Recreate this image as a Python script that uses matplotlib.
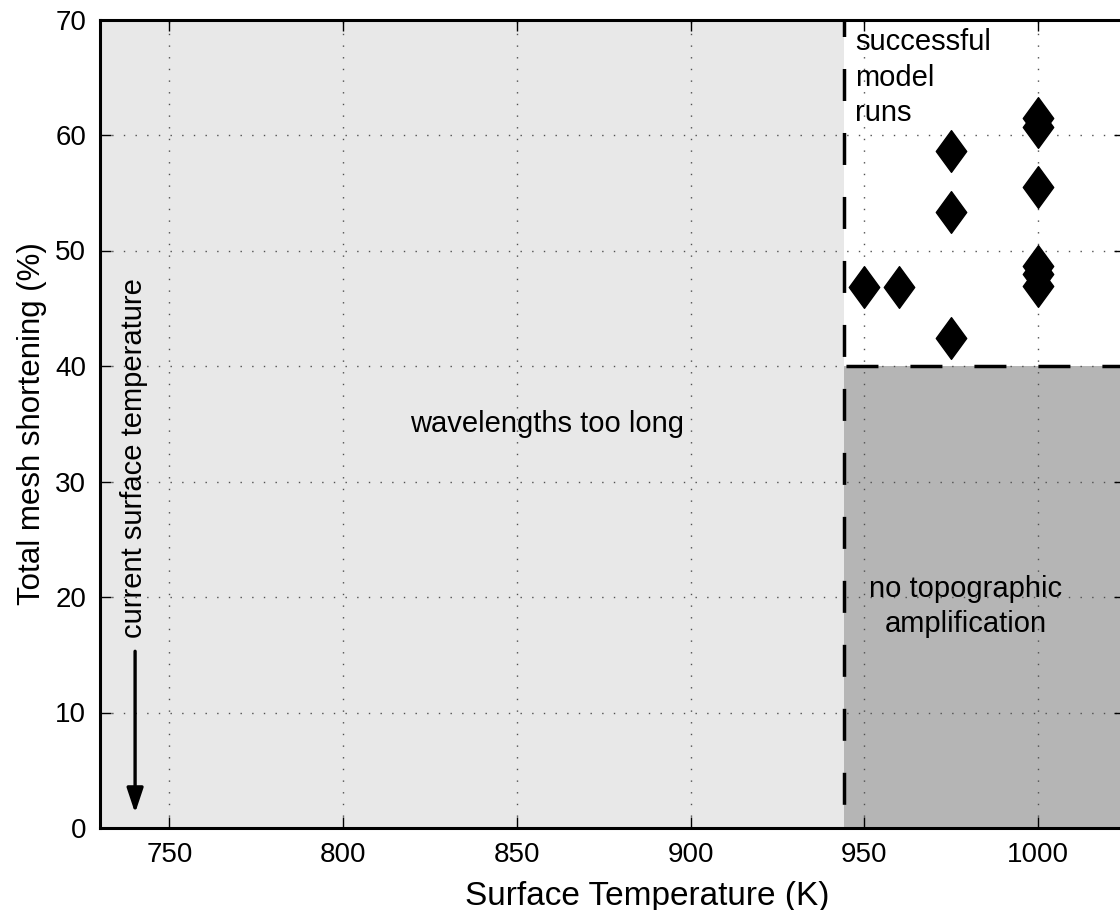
import matplotlib
matplotlib.use("Agg")
import matplotlib.pyplot as plt
from matplotlib.path import Path

plt.rcParams['font.family'] = ['Liberation Sans', 'DejaVu Sans']

# Data
temperature = [950, 960, 975, 975, 975, 1000, 1000, 1000, 1000, 1000, 1000]
shortening = [46.85, 46.85, 42.4, 53.3, 58.65, 61.5, 60.7, 55.5, 48.7, 48.0, 46.9]

xticks = [750, 800, 850, 900, 950, 1000]
yticks = [0, 10, 20, 30, 40, 50, 60, 70]
x_limits = (730, 1025)
y_limits = (0, 70)
temp_threshold = 944
shortening_threshold = 40

W, H = 1120, 910
fig = plt.figure(figsize=(W / 100, H / 100), dpi=100)
ax_left, ax_right, ax_top, ax_bottom = 100, 1125, 19.5, 828
ax = fig.add_axes([ax_left / W, (H - ax_bottom) / H,
                   (ax_right - ax_left) / W, (ax_bottom - ax_top) / H])

ax.set_xlim(*x_limits)
ax.set_ylim(*y_limits)

# Regions
ax.axvspan(x_limits[0], temp_threshold, color='#e8e8e8', zorder=0, lw=0)
ax.fill_between([temp_threshold, x_limits[1]], 0, shortening_threshold,
                color='#b5b5b5', zorder=0, lw=0)

# Grid
ax.set_xticks(xticks)
ax.set_yticks(yticks)
ax.grid(True, color='#505050', lw=1.0, dashes=(1.0, 7.4), zorder=1)

# Dashed boundaries
dlw = 2.5
ax.plot([temp_threshold, temp_threshold], [y_limits[1], y_limits[0]], color='black',
        lw=dlw, linestyle=(5.07 * 2.2 / dlw, (10.47 * 2.2 / dlw, 10.47 * 2.2 / dlw)),
        zorder=3)
ax.plot([temp_threshold, x_limits[1]], [shortening_threshold, shortening_threshold],
        color='black', lw=dlw,
        linestyle=(20.3 * 2.2 / dlw, (10.47 * 2.2 / dlw, 10.47 * 2.2 / dlw)), zorder=3)

# Diamonds
diamond = Path([(0, 1), (0.73, 0), (0, -1), (-0.73, 0), (0, 1)],
               [Path.MOVETO, Path.LINETO, Path.LINETO, Path.LINETO, Path.CLOSEPOLY])
ax.plot(temperature, shortening, linestyle='none', marker=diamond,
        markersize=30, color='black', zorder=4)

# Text annotations
fs = 21
ax.text(858.6, 34.3, 'wavelengths too long', fontsize=fs, ha='center', va='baseline')
ax.text(947.4, 67.4, 'successful', fontsize=fs, ha='left', va='baseline')
ax.text(947.4, 64.2, 'model', fontsize=fs, ha='left', va='baseline')
ax.text(947.4, 61.2, 'runs', fontsize=fs, ha='left', va='baseline')
ax.text(979.2, 20.04, 'no topographic', fontsize=fs, ha='center', va='baseline')
ax.text(979.2, 17.0, 'amplification', fontsize=fs, ha='center', va='baseline')
ax.text(742.0, 32.0, 'current surface temperature', fontsize=fs, rotation=90,
        rotation_mode='anchor', ha='center', va='baseline')
ax.annotate('', xy=(740.1, 1.3), xytext=(740.1, 15.3),
            arrowprops=dict(arrowstyle='-|>,head_length=1.5,head_width=0.5',
                            color='black', lw=2.4, shrinkA=0, shrinkB=0),
            zorder=5)

# Ticks & spines
ax.tick_params(direction='in', length=8, width=1, top=True, right=True,
               labelsize=20, pad=10, color='black')
for s in ax.spines.values():
    s.set_linewidth(2.2)

ax.set_xlabel('Surface Temperature (K)', fontsize=24)
ax.xaxis.set_label_coords((647 - ax_left) / (ax_right - ax_left),
                          (ax_bottom - 905) / (ax_bottom - ax_top))
ax.xaxis.label.set_verticalalignment('baseline')
ax.set_ylabel('Total mesh shortening (%)', fontsize=22.5)
ax.yaxis.set_label_coords((40 - ax_left) / (ax_right - ax_left), 0.5)
ax.yaxis.label.set_verticalalignment('baseline')

fig.savefig('out.png', dpi=100)
